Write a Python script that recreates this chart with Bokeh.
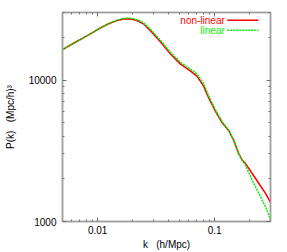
from bokeh.plotting import figure
from bokeh.models import LogAxis, FixedTicker, Label, Range1d, CustomJSTickFormatter
from bokeh.embed import file_html
from bokeh.resources import INLINE

# ---- data ----
k_nl = [0.005, 0.0060, 0.00705, 0.0080, 0.00917, 0.0108, 0.0127, 0.0146, 0.0166, 0.0185, 0.0205,
        0.0225, 0.0246, 0.0281, 0.0342, 0.0417, 0.0507, 0.0618, 0.0705, 0.0804, 0.0887,
        0.101, 0.1155, 0.1316, 0.145, 0.1603, 0.1714, 0.1829, 0.2088, 0.2377, 0.2714, 0.30]
p_nl = [16370, 17900, 19260, 20400, 21780, 23600, 25180, 26300, 27000, 27100, 26700,
        25900, 24950, 22400, 18730, 15350, 13000, 11600, 10650, 9050, 7500,
        6050, 5000, 4400, 3760, 3031, 2720, 2577, 2193, 1863, 1585, 1365]

k_lin = [0.005, 0.0060, 0.00705, 0.0080, 0.00917, 0.0108, 0.0127, 0.0146, 0.0166, 0.0185, 0.0205,
         0.0225, 0.0246, 0.0281, 0.0342, 0.0417, 0.0507, 0.0618, 0.0705, 0.0804, 0.0887,
         0.101, 0.1155, 0.1316, 0.145, 0.1603, 0.1714, 0.1829, 0.2088, 0.2377, 0.2714, 0.30]
p_lin = [16370, 17900, 19260, 20400, 21800, 23650, 25300, 26500, 27250, 27400, 27050,
         26350, 25400, 22950, 19200, 15750, 13400, 11950, 11050, 9450, 7750,
         6200, 5100, 4430, 3770, 3031, 2700, 2506, 1968, 1585, 1276, 1030]

x_major = [0.01, 0.1]
x_minor = [0.005, 0.006, 0.007, 0.008, 0.009, 0.02, 0.03, 0.04, 0.05, 0.06, 0.07, 0.08, 0.09, 0.2, 0.3]
y_major = [1000, 10000]
y_minor = [2000, 3000, 4000, 5000, 6000, 7000, 8000, 9000, 20000, 30000]

series_names = ["non-linear", "linear"]
series_colors = ["#ff0000", "#00ee00"]

FONT = "Liberation Sans"
GRAY = "#a0a0a0"
NBSP = "\u00a0"

p = figure(width=287, height=252, x_axis_type="log", y_axis_type="log",
           x_range=Range1d(0.005, 0.3), y_range=Range1d(1000, 30000),
           output_backend="svg", toolbar_location=None,
           min_border_left=62, min_border_right=17, min_border_top=12, min_border_bottom=30)
p.grid.visible = False
p.background_fill_color = "white"
p.border_fill_color = "white"
p.outline_line_color = GRAY
p.outline_line_width = 1.5

fmt = CustomJSTickFormatter(code="return tick.toString();")


def style_axis(ax, major, minor):
    ax.ticker = FixedTicker(ticks=major, minor_ticks=minor)
    ax.formatter = fmt
    ax.axis_line_color = GRAY
    ax.axis_line_width = 1.5
    ax.major_tick_in = 4
    ax.major_tick_out = 0
    ax.minor_tick_in = 2
    ax.minor_tick_out = 0
    ax.major_tick_line_color = "#707070"
    ax.minor_tick_line_color = "#707070"
    ax.major_label_text_font = FONT
    ax.major_label_text_font_size = "10px"
    ax.major_label_text_color = "black"
    ax.axis_label_text_font = FONT
    ax.axis_label_text_font_size = "10px"
    ax.axis_label_text_font_style = "normal"
    ax.axis_label_text_color = "black"


xa = p.xaxis[0]
style_axis(xa, x_major, x_minor)
xa.axis_label = "k" + NBSP * 3 + "(h/Mpc)"
xa.major_label_standoff = 4
xa.axis_label_standoff = 2

ya = p.yaxis[0]
style_axis(ya, y_major, y_minor)
ya.axis_label = "P(k)" + NBSP * 3 + "(Mpc/h)³"
ya.major_label_standoff = 6
ya.axis_label_standoff = 10

top = LogAxis()
style_axis(top, x_major, x_minor)
top.major_label_text_font_size = "1px"
top.major_label_text_alpha = 0
top.major_label_standoff = 0
p.add_layout(top, "above")

right = LogAxis()
style_axis(right, y_major, y_minor)
right.major_label_text_font_size = "1px"
right.major_label_text_alpha = 0
right.major_label_standoff = 0
p.add_layout(right, "right")

p.line(k_nl, p_nl, line_color=series_colors[0], line_width=1.5)
p.line(k_lin, p_lin, line_color=series_colors[1], line_width=1.5, line_dash="2 1")

# legend (gnuplot style: text, then sample)
legend_text_x = 0.122
legend_key_x = [0.128, 0.236]
legend_y = [26460, 22490]
dashes = ["solid", "2 1"]
for name, color, yy, dash in zip(series_names, series_colors, legend_y, dashes):
    p.add_layout(Label(x=legend_text_x, y=yy, text=name, text_align="right",
                       text_baseline="middle", text_font=FONT, text_font_size="10px",
                       text_color=color))
    p.line(legend_key_x, [yy, yy], line_color=color, line_width=1.5, line_dash=dash)

open("out.html", "w").write(file_html(p, INLINE))
